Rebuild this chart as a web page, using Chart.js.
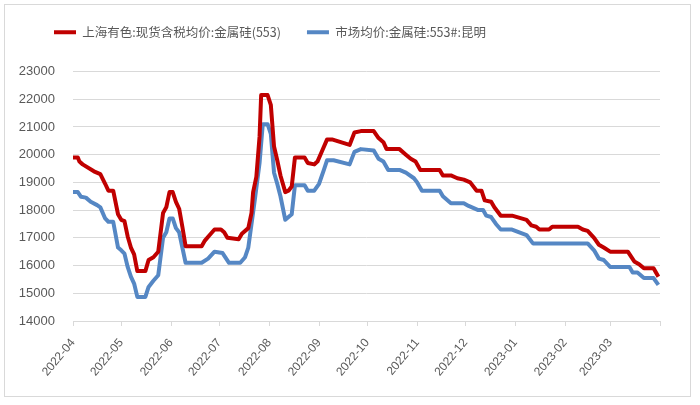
<!DOCTYPE html>
<html>
<head>
<meta charset="utf-8">
<title>金属硅价格</title>
<script src="https://cdn.jsdelivr.net/npm/chart.js@4.4.1/dist/chart.umd.min.js"></script>
<style>
  html, body { margin: 0; padding: 0; background: #ffffff; }
</style>
</head>
<body>
<canvas id="chart" width="700" height="405"></canvas>
<script>
// {{{ data
const seriesNames = ['上海有色:现货含税均价:金属硅(553)', '市场均价:金属硅:553#:昆明'];
const monthLabels = ['2022-04', '2022-05', '2022-06', '2022-07', '2022-08', '2022-09', '2022-10', '2022-11', '2022-12', '2023-01', '2023-02', '2023-03'];
const axisEnd = '2023-04-01';
const yTicks = [14000, 15000, 16000, 17000, 18000, 19000, 20000, 21000, 22000, 23000];

const smmDates = [
  '2022-04-01', '2022-04-04', '2022-04-05', '2022-04-07', '2022-04-14', '2022-04-18', '2022-04-21', '2022-04-23', '2022-04-26', '2022-04-29',
  '2022-05-01', '2022-05-03', '2022-05-05', '2022-05-07', '2022-05-09', '2022-05-11', '2022-05-16', '2022-05-18', '2022-05-21', '2022-05-24',
  '2022-05-27', '2022-05-29', '2022-05-31', '2022-06-02', '2022-06-04', '2022-06-06', '2022-06-08', '2022-06-10', '2022-06-20', '2022-06-22',
  '2022-06-25', '2022-06-28', '2022-07-02', '2022-07-04', '2022-07-06', '2022-07-13', '2022-07-15', '2022-07-19', '2022-07-21', '2022-07-22',
  '2022-07-24', '2022-07-26', '2022-07-27', '2022-07-31', '2022-08-02', '2022-08-04', '2022-08-06', '2022-08-08', '2022-08-11', '2022-08-13',
  '2022-08-15', '2022-08-17', '2022-08-23', '2022-08-25', '2022-08-29', '2022-08-31', '2022-09-03', '2022-09-06', '2022-09-09', '2022-09-20',
  '2022-09-23', '2022-09-27', '2022-10-05', '2022-10-08', '2022-10-11', '2022-10-13', '2022-10-21', '2022-10-25', '2022-10-28', '2022-10-31',
  '2022-11-03', '2022-11-15', '2022-11-17', '2022-11-22', '2022-11-26', '2022-11-30', '2022-12-04', '2022-12-08', '2022-12-11', '2022-12-13',
  '2022-12-17', '2022-12-19', '2022-12-23', '2022-12-30', '2023-01-08', '2023-01-11', '2023-01-14', '2023-01-16', '2023-01-22', '2023-01-24',
  '2023-02-09', '2023-02-12', '2023-02-15', '2023-02-19', '2023-02-22', '2023-02-25', '2023-03-01', '2023-03-12', '2023-03-16', '2023-03-19',
  '2023-03-22', '2023-03-28', '2023-03-31'
];
const smmPrices = [
  19900, 19900, 19750, 19650, 19400, 19300, 18950, 18700, 18700, 17850,
  17650, 17600, 17050, 16650, 16400, 15800, 15800, 16200, 16300, 16500,
  17900, 18100, 18650, 18650, 18300, 18050, 17400, 16700, 16700, 16900,
  17100, 17300, 17300, 17200, 17000, 16950, 17150, 17350, 17900, 18650,
  19200, 20650, 22150, 22150, 21800, 20300, 19800, 19250, 18650, 18700,
  18850, 19900, 19900, 19700, 19650, 19750, 20150, 20550, 20550, 20350,
  20800, 20850, 20850, 20600, 20450, 20200, 20200, 20000, 19850, 19750,
  19450, 19450, 19250, 19250, 19150, 19100, 19000, 18700, 18700, 18350,
  18300, 18100, 17800, 17800, 17650, 17450, 17400, 17300, 17300, 17400,
  17400, 17300, 17250, 17000, 16750, 16650, 16500, 16500, 16150, 16050,
  15900, 15900, 15600
];

const kmDates = [
  '2022-04-01', '2022-04-04', '2022-04-06', '2022-04-09', '2022-04-12', '2022-04-16', '2022-04-18', '2022-04-21', '2022-04-23', '2022-04-26',
  '2022-04-29', '2022-05-01', '2022-05-03', '2022-05-05', '2022-05-07', '2022-05-09', '2022-05-11', '2022-05-16', '2022-05-18', '2022-05-21',
  '2022-05-24', '2022-05-27', '2022-05-29', '2022-05-31', '2022-06-02', '2022-06-04', '2022-06-06', '2022-06-08', '2022-06-10', '2022-06-20',
  '2022-06-24', '2022-06-28', '2022-07-03', '2022-07-07', '2022-07-14', '2022-07-17', '2022-07-19', '2022-07-21', '2022-07-23', '2022-07-26',
  '2022-07-28', '2022-07-31', '2022-08-02', '2022-08-04', '2022-08-06', '2022-08-08', '2022-08-11', '2022-08-13', '2022-08-15', '2022-08-17',
  '2022-08-23', '2022-08-25', '2022-08-29', '2022-09-01', '2022-09-04', '2022-09-06', '2022-09-10', '2022-09-20', '2022-09-23', '2022-09-27',
  '2022-10-05', '2022-10-08', '2022-10-11', '2022-10-14', '2022-10-21', '2022-10-25', '2022-10-30', '2022-11-01', '2022-11-04', '2022-11-15',
  '2022-11-17', '2022-11-22', '2022-11-30', '2022-12-03', '2022-12-09', '2022-12-12', '2022-12-14', '2022-12-17', '2022-12-20', '2022-12-23',
  '2022-12-30', '2023-01-08', '2023-01-12', '2023-02-15', '2023-02-19', '2023-02-22', '2023-02-25', '2023-03-01', '2023-03-13', '2023-03-15',
  '2023-03-18', '2023-03-22', '2023-03-28', '2023-03-31'
];
const kmPrices = [
  18650, 18650, 18480, 18450, 18300, 18180, 18100, 17700, 17580, 17580,
  16650, 16550, 16430, 15950, 15600, 15350, 14870, 14870, 15230, 15450,
  15650, 17000, 17200, 17700, 17700, 17350, 17200, 16650, 16100, 16100,
  16250, 16500, 16450, 16100, 16100, 16300, 16650, 17500, 18350, 19700,
  21100, 21100, 20750, 19350, 18950, 18500, 17650, 17750, 17850, 18900,
  18900, 18700, 18700, 18950, 19450, 19800, 19800, 19650, 20100, 20200,
  20150, 19850, 19750, 19450, 19450, 19350, 19150, 19000, 18700, 18700,
  18500, 18250, 18250, 18150, 18000, 18000, 17800, 17750, 17500, 17300,
  17300, 17100, 16800, 16800, 16550, 16250, 16200, 15950, 15950, 15750,
  15750, 15550, 15550, 15300
];
// }}}

// {{{ helpers
const start = Date.parse('2022-04-01');
function dayOf(s)
{
  return Math.round((Date.parse(s) - start) / 86400000);
}
function points(dates, values)
{
  return dates.map((d, i) => ({x: dayOf(d), y: values[i]}));
}
const monthDays = monthLabels.map((m) => dayOf(m + '-01'));
const endDay = dayOf(axisEnd);
// }}}

// {{{ plugins
const frame =
{
  id: 'frame',
  afterInit(chart)
  {
    const fit = chart.legend.fit;
    chart.legend.fit = function ()
    {
      fit.call(this);
      this.height += 23;
    };
  },
  afterLayout(chart)
  {
    // legend sits further right than the y axis box
    chart.legend.left = 28;
  },
  beforeDraw(chart)
  {
    const ctx = chart.ctx;
    ctx.save();
    ctx.fillStyle = '#ffffff';
    ctx.fillRect(0, 0, chart.width, chart.height);
    ctx.strokeStyle = '#d9d9d9';
    ctx.lineWidth = 1;
    ctx.strokeRect(4.5, 4.5, 686, 392);
    ctx.restore();
  }
};
// }}}

Chart.defaults.font.family = '"Liberation Sans", "Noto Sans CJK SC", sans-serif';
Chart.defaults.color = '#595959';

new Chart(document.getElementById('chart'),
{
  type: 'line',
  data:
  {
    datasets:
    [
      {label: seriesNames[0], data: points(smmDates, smmPrices), borderColor: '#c00000', backgroundColor: '#c00000', borderWidth: 4, pointRadius: 0, tension: 0, borderJoinStyle: 'round', pointStyle: 'line'},
      {label: seriesNames[1], data: points(kmDates, kmPrices), borderColor: '#5587c4', backgroundColor: '#5587c4', borderWidth: 4, pointRadius: 0, tension: 0, borderJoinStyle: 'round', pointStyle: 'line'}
    ]
  },
  options:
  {
    responsive: false,
    animation: false,
    layout: {padding: {left: 0, right: 40, top: 0, bottom: 0}},
    plugins:
    {
      legend:
      {
        position: 'top',
        align: 'start',
        labels:
        {
          usePointStyle: true,
          pointStyleWidth: 22,
          padding: 26,
          color: '#595959',
          font: {family: '"Noto Sans CJK SC", sans-serif', size: 12.5}
        }
      },
      tooltip: {enabled: false}
    },
    scales:
    {
      x:
      {
        type: 'linear',
        min: 0,
        max: endDay,
        afterBuildTicks: (scale) =>
        {
          scale.ticks = monthDays.concat([endDay]).map((v) => ({value: v}));
        },
        afterFit: (scale) =>
        {
          scale.height = 84;
        },
        ticks:
        {
          autoSkip: false,
          maxRotation: 50,
          minRotation: 50,
          padding: 10,
          font: {size: 12},
          callback: (v) =>
          {
            const i = monthDays.indexOf(v);
            return i < 0 ? '' : monthLabels[i];
          }
        },
        grid: {drawOnChartArea: false, drawTicks: true, tickLength: 5, color: '#d9d9d9'},
        border: {color: '#d9d9d9'}
      },
      y:
      {
        min: yTicks[0],
        max: yTicks[yTicks.length - 1],
        afterBuildTicks: (scale) =>
        {
          scale.ticks = yTicks.map((v) => ({value: v}));
        },
        afterFit: (scale) =>
        {
          scale.width = 73;
        },
        ticks: {padding: 18, font: {size: 13}, callback: (v) => String(v)},
        grid: {color: '#d9d9d9', drawTicks: false},
        border: {display: false}
      }
    }
  },
  plugins: [frame]
});
</script>
</body>
</html>
